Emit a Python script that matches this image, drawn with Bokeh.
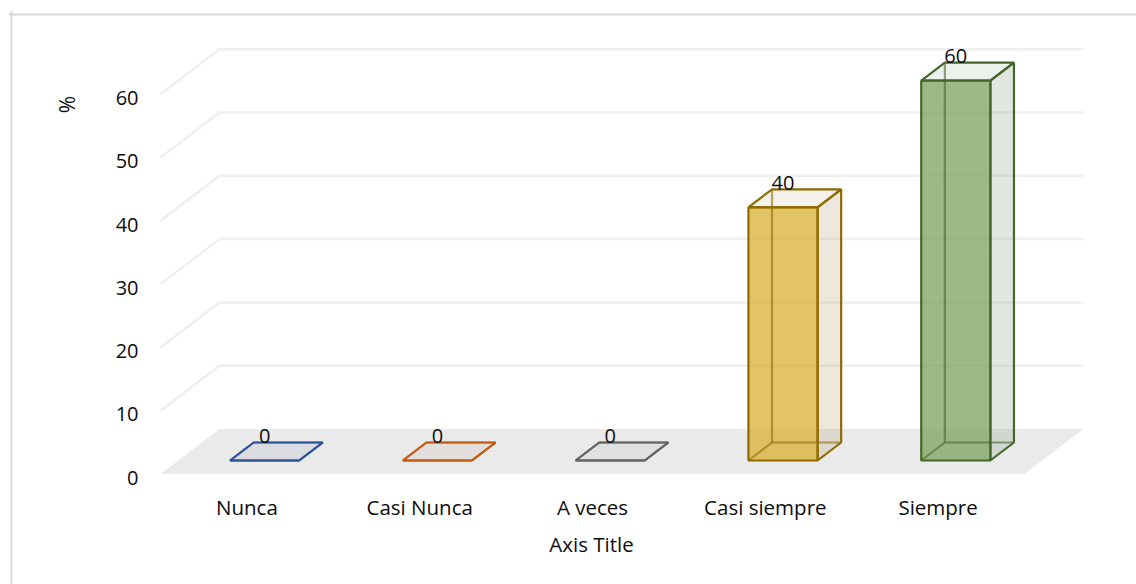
import math
from bokeh.plotting import figure
from bokeh.embed import file_html
from bokeh.resources import INLINE
from bokeh.models import Range1d, LinearAxis, FixedTicker, Span
from bokeh.core.properties import value

categories = ["Nunca", "Casi Nunca", "A veces", "Casi siempre", "Siempre"]
values = [0, 0, 0, 40, 60]
y_ticks = [0, 10, 20, 30, 40, 50, 60]
front_colors = ["#4472C4", "#ED7D31", "#A5A5A5", "#D8AF33", "#7CA25C"]
side_colors = ["#8090B0", "#B09A88", "#A5A5A5", "#B3A37B", "#879F83"]
line_colors = ["#2F5597", "#C55A11", "#636363", "#8F6A00", "#43682B"]
x_title = "Axis Title"
y_title = "%"
FONT = "Open Sans"
INK = "#0D0D0D"

W, H = 1136, 584
F_L, F_R, F_T, F_B = 8, 1136, 10, 584   # frame in page pixels
ORIGIN_X = 160
X_PX = 172.8
Y_PX = 6.33
Y0 = 473.5
DX = 59 / X_PX      # depth shift, x units
DY = 45 / Y_PX      # depth shift, y units
BAR_D0, BAR_D1 = 0.3, 0.7
GAP = 0.3


def xr(px):
    return (px - ORIGIN_X) / X_PX


def yr(py):
    return (Y0 - py) / Y_PX


p = figure(width=W, height=H, output_backend="svg", toolbar_location=None,
           x_range=Range1d(xr(F_L), xr(F_R)), y_range=Range1d(yr(F_B), yr(F_T)),
           x_axis_location=None, y_axis_location=None,
           min_border_left=F_L, min_border_right=W - F_R,
           min_border_top=F_T, min_border_bottom=H - F_B)
p.grid.visible = False
p.outline_line_color = None
p.background_fill_color = "white"
p.border_fill_color = "white"

# chart border: only the top and left edges fall inside the page
p.add_layout(Span(location=xr(11), dimension="height", line_color="#D9D9D9", line_width=2))
p.add_layout(Span(location=yr(14), dimension="width", line_color="#D9D9D9", line_width=2))

# y axis: its labels sit a little below the gridline starts
p.extra_y_ranges = {"labels": Range1d(yr(F_B) + 0.6, yr(F_T) + 0.6)}
ya = LinearAxis(y_range_name="labels", ticker=FixedTicker(ticks=y_ticks), fixed_location=0)
ya.axis_line_color = None
ya.major_tick_line_color = None
ya.minor_tick_line_color = None
ya.major_tick_out = 0
ya.major_label_standoff = 22
ya.major_label_text_font = FONT
ya.major_label_text_font_size = "20px"
ya.major_label_text_color = INK
p.add_layout(ya, "left")

xa = LinearAxis(ticker=FixedTicker(ticks=[i + 0.5 for i in range(len(categories))]),
                fixed_location=yr(480))
xa.major_label_overrides = {i + 0.5: c for i, c in enumerate(categories)}
xa.axis_line_color = None
xa.major_tick_line_color = None
xa.minor_tick_line_color = None
xa.major_tick_out = 0
xa.major_label_standoff = 12
xa.major_label_text_font = FONT
xa.major_label_text_font_size = "20.5px"
xa.major_label_text_color = INK
p.add_layout(xa, "below")

n = len(categories)
# floor
p.patch([0, n, n + DX, DX], [0, 0, DY, DY], fill_color="#EAEAEA", line_color=None)
# walls
grid = [v for v in y_ticks if v > 0]
p.multi_line([[0, DX, n + DX] for v in grid], [[v, v + DY, v + DY] for v in grid],
             line_color="#EFEFEF", line_width=2.5)


def pt(x, d, v):
    return x + DX * d, v + DY * d


for i, v in enumerate(values):
    x0, x1 = i + GAP, i + 1 - GAP
    lc, fc, sc = line_colors[i], front_colors[i], side_colors[i]

    def quad(a, b, c, d):
        cs = [pt(*q) for q in (a, b, c, d)]
        return [q[0] for q in cs], [q[1] for q in cs]

    # top
    p.patch(*quad((x0, BAR_D0, v), (x1, BAR_D0, v), (x1, BAR_D1, v), (x0, BAR_D1, v)),
            fill_color=sc, fill_alpha=0.15, line_color=lc, line_width=2.2)
    # right side
    p.patch(*quad((x1, BAR_D0, 0), (x1, BAR_D1, 0), (x1, BAR_D1, v), (x1, BAR_D0, v)),
            fill_color=sc, fill_alpha=0.25, line_color=lc, line_width=2.2)
    # front
    p.patch(*quad((x0, BAR_D0, 0), (x1, BAR_D0, 0), (x1, BAR_D0, v), (x0, BAR_D0, v)),
            fill_color=fc, fill_alpha=0.75, line_color=lc, line_width=2.2)
    # back edges seen through the box
    p.multi_line([[pt(x0, BAR_D0, 0)[0], pt(x0, BAR_D1, 0)[0], pt(x1, BAR_D1, 0)[0]],
                  [pt(x0, BAR_D1, 0)[0], pt(x0, BAR_D1, v)[0]]],
                 [[pt(x0, BAR_D0, 0)[1], pt(x0, BAR_D1, 0)[1], pt(x1, BAR_D1, 0)[1]],
                  [pt(x0, BAR_D1, 0)[1], pt(x0, BAR_D1, v)[1]]],
                 line_color=lc, line_width=2.2, line_alpha=0.6)
    # value label
    lx, ly = pt((x0 + x1) / 2, BAR_D0, v + DY * (BAR_D1 - BAR_D0))
    p.text([lx], [ly + 1], text=[str(v)], text_align="center",
           text_baseline="middle", text_font=value(FONT), text_font_size="20px",
           text_color=INK)

# titles
p.text([xr(591)], [yr(543)], text=[x_title], text_align="center", text_baseline="middle",
       text_font=value(FONT), text_font_size="20.5px", text_color=INK)
p.text([xr(66)], [yr(104)], text=[y_title], text_align="center", text_baseline="middle",
       angle=math.pi / 2, text_font=value(FONT), text_font_size="21px", text_color=INK)

open("out.html", "w").write(file_html(p, INLINE))
